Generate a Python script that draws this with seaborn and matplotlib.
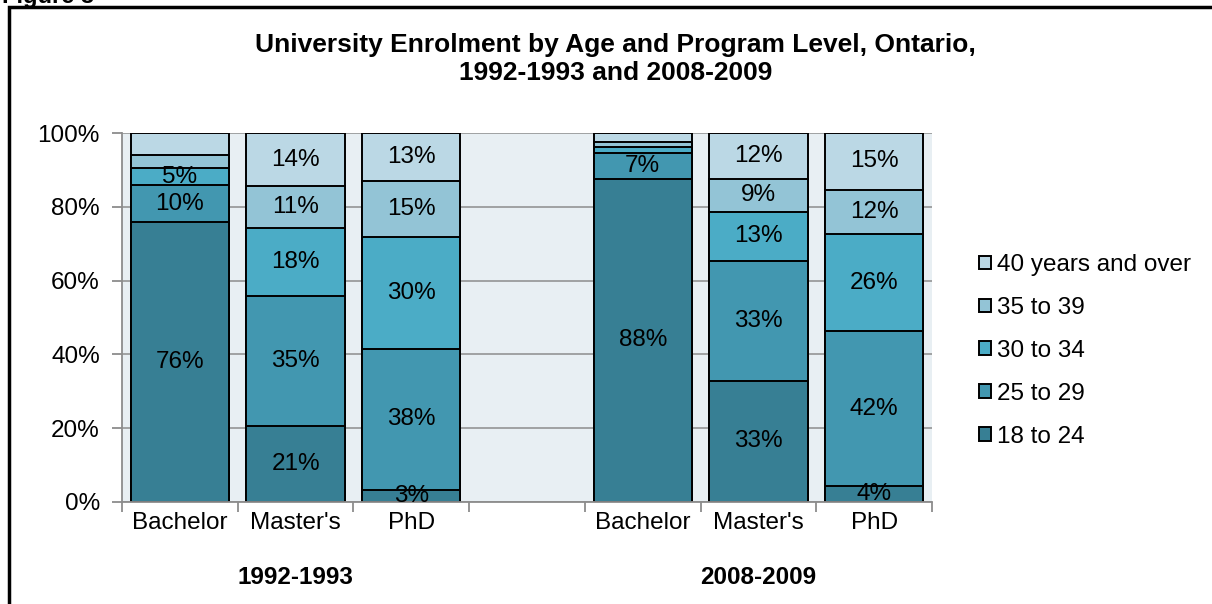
import numpy as np
import pandas as pd
import matplotlib
matplotlib.use("Agg")
import matplotlib.pyplot as plt
from matplotlib.patches import Patch, Rectangle
import matplotlib.transforms as mtransforms
import seaborn as sns

# share of enrolment (%) by age group, bottom to top:
# 18-24, 25-29, 30-34, 35-39, 40+
ages = ["18 to 24", "25 to 29", "30 to 34", "35 to 39", "40 years and over"]
levels = ["Bachelor", "Master's", "PhD"]
periods = ["1992-1993", "2008-2009"]

bachelor_1992 = [75.9, 9.9, 4.7, 3.6, 5.9]
masters_1992 = [20.7, 35.2, 18.4, 11.3, 14.4]
phd_1992 = [3.3, 38.2, 30.4, 15.1, 13.0]
bachelor_2008 = [87.6, 6.9, 1.8, 1.3, 2.4]
masters_2008 = [32.8, 32.6, 13.2, 9.0, 12.4]
phd_2008 = [4.3, 42.0, 26.3, 12.0, 15.4]

# segments that have no data label in the original
unlabeled = {"1992-1993 Bachelor": [3, 4], "2008-2009 Bachelor": [2, 3, 4]}

colors = ["#377f94", "#4297b0", "#4bacc6", "#93c4d6", "#bbd8e5"]

# build long table
bars = {
    "1992-1993 Bachelor": bachelor_1992,
    "1992-1993 Master's": masters_1992,
    "1992-1993 PhD": phd_1992,
    "2008-2009 Bachelor": bachelor_2008,
    "2008-2009 Master's": masters_2008,
    "2008-2009 PhD": phd_2008,
}
rows = []
for slot, vals in bars.items():
    for age, v in zip(ages, vals):
        rows.append({"slot": slot, "age": age, "value": v})
df = pd.DataFrame(rows)
df["cum"] = df.groupby("slot")["value"].cumsum()

order = list(bars.keys())[:3] + ["gap"] + list(bars.keys())[3:]

plt.rcParams["font.family"] = ["Liberation Sans", "DejaVu Sans"]
fs = 17.5

fig = plt.figure(figsize=(12.12, 6.04), dpi=100)
ax = fig.add_axes([122 / 1212, 1 - 502 / 604, 810 / 1212, 369 / 604])
ax.set_facecolor("#e8eff3")
ax.set_axisbelow(True)

# draw cumulative bars from the top group down so lower ones sit on top
for age, col in reversed(list(zip(ages, colors))):
    sub = df[df["age"] == age]
    sns.barplot(data=sub, x="slot", y="cum", order=order, color=col,
                width=0.85, edgecolor="black", linewidth=1.4,
                saturation=1, ax=ax)

# data labels
for slot, vals in bars.items():
    xpos = order.index(slot)
    cum = np.cumsum(vals)
    for i, v in enumerate(vals):
        if i in unlabeled.get(slot, []):
            continue
        ax.text(xpos, cum[i] - v / 2, f"{v:.0f}%", ha="center", va="center",
                fontsize=fs, color="black")

ax.set_xlim(-0.5, 6.5)
ax.set_ylim(0, 100)
ax.set_yticks(range(0, 101, 20))
ax.set_yticklabels([f"{t}%" for t in range(0, 101, 20)], fontsize=fs)
ax.yaxis.grid(True, color="#8c8c8c", linewidth=1.1)
ax.set_xticks(range(7))
ax.set_xticklabels(levels + [""] + levels, fontsize=fs)
ax.set_xticks(np.arange(-0.5, 7, 1), minor=True)
ax.tick_params(axis="x", which="major", length=0, pad=7)
ax.tick_params(axis="x", which="minor", length=7, width=1.3, color="#8c8c8c")
ax.tick_params(axis="y", length=7, width=1.3, color="#8c8c8c", pad=9)
ax.set_xlabel("")
ax.set_ylabel("")
for side in ["top", "right"]:
    ax.spines[side].set_visible(False)
for side in ["left", "bottom"]:
    ax.spines[side].set_color("#8c8c8c")
    ax.spines[side].set_linewidth(1.3)

# group labels under the axis
trans = mtransforms.blended_transform_factory(ax.transData, fig.transFigure)
for period, slot in zip(periods, ["1992-1993 Master's", "2008-2009 Master's"]):
    ax.text(order.index(slot), 1 - 578 / 604, period, transform=trans,
            ha="center", va="center", fontsize=17.5, fontweight="bold")

# legend
handles = [Patch(facecolor=c, edgecolor="black", linewidth=1.4, label=a)
           for a, c in zip(ages, colors)]
fig.legend(handles=handles[::-1], loc="center left",
           bbox_to_anchor=(967 / 1212, 1 - 351 / 604), frameon=False,
           fontsize=fs, handlelength=0.5, handleheight=0.5,
           handletextpad=0.25, labelspacing=0.86, borderpad=0)

# title
fig.text(0.508, 1 - 59 / 604,
         "University Enrolment by Age and Program Level, Ontario,\n1992-1993 and 2008-2009",
         ha="center", va="center", fontsize=19, fontweight="bold",
         linespacing=1.25)

# page-crop remnants: figure caption and chart border
fig.text(0.002, 1 - 3 / 604, "Figure 3", fontsize=17, fontweight="bold",
         va="baseline", ha="left")
fig.patches.append(Rectangle((9 / 1212, -0.1), 1.2, 1.1 - 7 / 604,
                             transform=fig.transFigure, fill=False,
                             edgecolor="black", linewidth=2.5))

fig.savefig("out.png", dpi=100)
